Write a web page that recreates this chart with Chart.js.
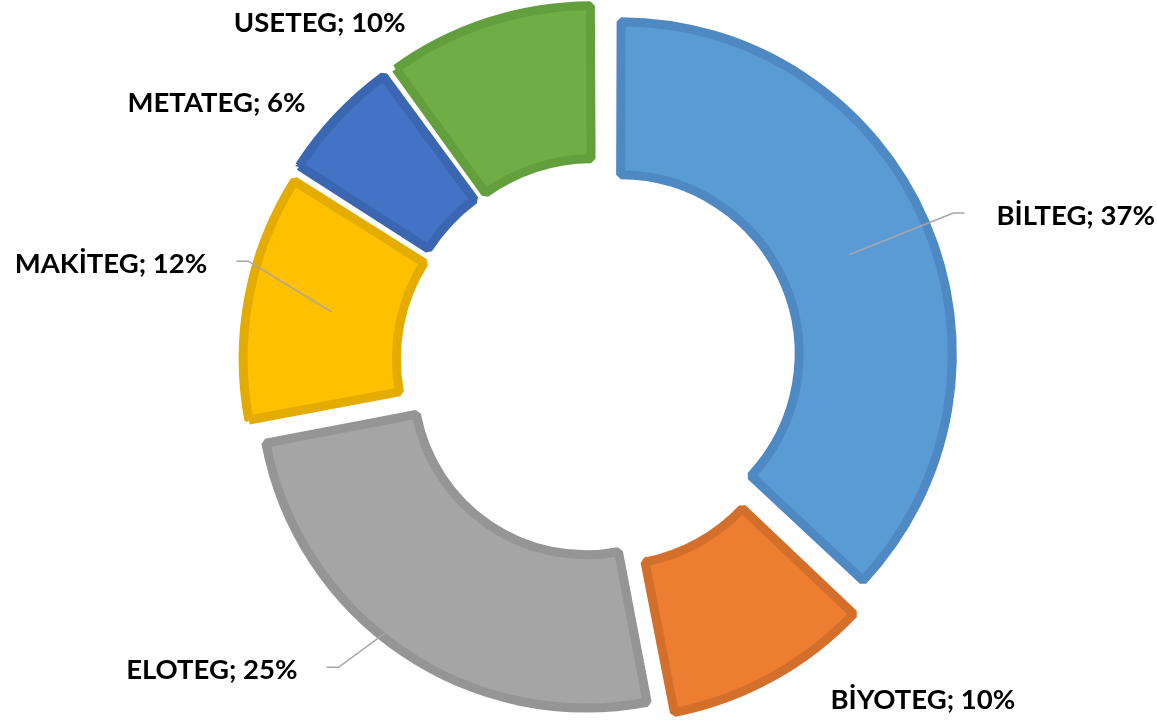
<!DOCTYPE html>
<html>
<head>
<meta charset="utf-8">
<script src="https://cdn.jsdelivr.net/npm/chart.js@4.4.1/dist/chart.umd.min.js"></script>
<style>
  html, body { margin: 0; background: #fff; }
  #wrap { width: 1157px; height: 723px; }
</style>
</head>
<body>
<div id="wrap"><canvas id="chart"></canvas></div>
<script>
const categories = ['BİLTEG', 'BİYOTEG', 'ELOTEG', 'MAKİTEG', 'METATEG', 'USETEG'];
const shares = [37, 10, 25, 12, 6, 10];

const fillColors = ['#5B9BD5', '#ED7D31', '#A5A5A5', '#FFC000', '#4472C4', '#70AD47'];
const edgeColors = ['#4F89C4', '#D46F2B', '#959595', '#E5AC00', '#3B66B2', '#63A03D'];

// where each label sits: angle (deg, clockwise from top) and distance from the centre
const labelPlaces = [
    { angle: 72.8, dist: 499, leader: true },
    { angle: 136.1, dist: 467, leader: false },
    { angle: 231.6, dist: 494, leader: true },
    { angle: 281.5, dist: 498, leader: true },
    { angle: 304.3, dist: 463, leader: false },
    { angle: 320.6, dist: 440, leader: false }
];

const total = shares.reduce((s, v) => s + v, 0);

// chart.js pushes narrow arcs further out than wide ones, so ease the explode on those
function explodeOffset(c) {
    const circ = shares[c.dataIndex] / total * Math.PI * 2;
    const fix = 1 - Math.sin(Math.min(Math.PI, circ));
    return 4 * Math.min(23, 33 / (1 + fix));
}

const sliceLabels = {
    id: 'sliceLabels',
    afterDatasetsDraw(chart, args, opts) {
        const ctx = chart.ctx;
        const meta = chart.getDatasetMeta(0);
        ctx.save();
        ctx.font = opts.font;
        const capH = ctx.measureText('H').actualBoundingBoxAscent;

        meta.data.forEach((arc, i) => {
            const p = arc.getProps(['x', 'y', 'startAngle', 'endAngle', 'innerRadius', 'outerRadius'], true);
            const mid = (p.startAngle + p.endAngle) / 2;
            const shift = (arc.options.offset || 0) / 4;
            const place = opts.places[i];
            const a = (place.angle - 90) * Math.PI / 180;
            const cx = p.x + Math.cos(a) * place.dist;
            const cy = p.y + Math.sin(a) * place.dist;
            const text = categories[i] + '; ' + shares[i] + '%';
            const w = ctx.measureText(text).width;

            if (place.leader) {
                const rc = (p.innerRadius + p.outerRadius) / 2;
                const sx = p.x + Math.cos(mid) * (rc + shift);
                const sy = p.y + Math.sin(mid) * (rc + shift);
                const right = cx > p.x;
                const ly = cy - 2.5;
                const ex = right ? cx - w / 2 - 32 : cx + w / 2 + 29;
                const bx = right ? ex - 11 : ex + 12;
                ctx.beginPath();
                ctx.moveTo(sx, sy);
                ctx.lineTo(bx, ly);
                ctx.lineTo(ex, ly);
                ctx.strokeStyle = '#A6A6A6';
                ctx.lineWidth = 1.5;
                ctx.stroke();
            }

            ctx.fillStyle = '#000';
            ctx.textAlign = 'center';
            ctx.textBaseline = 'alphabetic';
            ctx.fillText(text, cx, cy + capH / 2);
        });
        ctx.restore();
    }
};

new Chart(document.getElementById('chart'), {
    type: 'doughnut',
    data: {
        labels: categories,
        datasets: [{
            data: shares,
            backgroundColor: fillColors,
            borderColor: edgeColors,
            borderWidth: 9,
            borderAlign: 'center',
            borderJoinStyle: 'bevel',
            offset: explodeOffset
        }]
    },
    options: {
        responsive: true,
        maintainAspectRatio: false,
        animation: false,
        events: [],
        radius: 326,
        cutout: '53%',
        layout: {
            padding: { left: 41, top: 3, right: 0, bottom: 0 }
        },
        plugins: {
            legend: { display: false },
            tooltip: { enabled: false },
            sliceLabels: {
                font: 'bold 27.5px Lato',
                places: labelPlaces
            }
        }
    },
    plugins: [sliceLabels]
});
</script>
</body>
</html>
